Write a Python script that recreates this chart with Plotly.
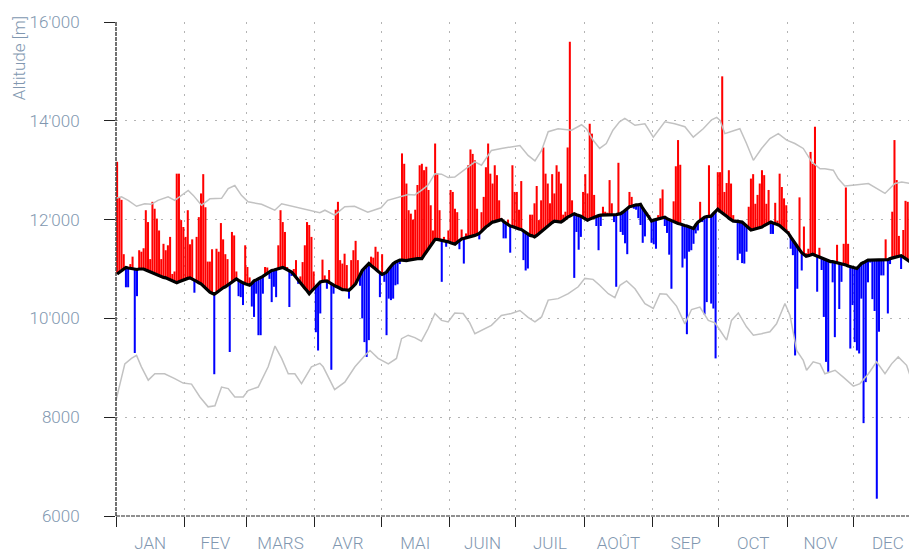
import plotly.graph_objects as go

month_names = ["JAN", "FEV", "MARS", "AVR", "MAI", "JUIN", "JUIL", "AOÛT", "SEP", "OCT", "NOV", "DEC"]
month_lengths = [31, 28, 31, 30, 31, 30, 31, 31, 30, 31, 30, 31]

y_tick_vals = [6000, 8000, 10000, 12000, 14000, 16000]
y_tick_text = ["6000", "8000", "10'000", "12'000", "14'000", "16'000"]

# smoothed daily reference altitude (black line), one value per day
baseline = [
    10900, 10930, 10970, 11000, 11030, 11020, 11010, 11000, 10990, 10990,
    11000, 11000, 11000, 10980, 10960, 10940, 10920, 10900, 10890, 10870,
    10850, 10830, 10820, 10800, 10780, 10760, 10740, 10720, 10740, 10760,
    10780, 10800, 10810, 10820, 10800, 10770, 10750, 10720, 10700, 10660,
    10610, 10570, 10530, 10510, 10490, 10520, 10560, 10600, 10620, 10640,
    10670, 10700, 10730, 10770, 10800, 10770, 10740, 10720, 10700, 10690,
    10670, 10710, 10760, 10780, 10800, 10830, 10850, 10880, 10910, 10940,
    10970, 10980, 10990, 11000, 11020, 11030, 11010, 10990, 10960, 10940,
    10890, 10830, 10780, 10720, 10670, 10610, 10560, 10500, 10550, 10600,
    10650, 10700, 10740, 10750, 10760, 10760, 10730, 10700, 10670, 10650,
    10630, 10600, 10580, 10580, 10570, 10570, 10610, 10660, 10700, 10790,
    10880, 10970, 11020, 11070, 11110, 11070, 11040, 11000, 10960, 10930,
    10890, 10910, 10940, 11000, 11060, 11110, 11140, 11160, 11180, 11180,
    11170, 11170, 11180, 11190, 11200, 11200, 11210, 11210, 11210, 11280,
    11350, 11410, 11470, 11540, 11600, 11600, 11590, 11590, 11580, 11560,
    11550, 11530, 11520, 11500, 11540, 11570, 11610, 11620, 11630, 11640,
    11650, 11660, 11680, 11700, 11720, 11760, 11810, 11850, 11880, 11920,
    11950, 11960, 11970, 11990, 12000, 11960, 11930, 11890, 11870, 11860,
    11840, 11830, 11810, 11800, 11770, 11730, 11700, 11680, 11670, 11650,
    11680, 11720, 11750, 11790, 11840, 11880, 11910, 11940, 11970, 11960,
    11960, 11950, 11980, 12020, 12050, 12070, 12100, 12120, 12100, 12090,
    12070, 12040, 12020, 11990, 12010, 12030, 12050, 12060, 12080, 12090,
    12090, 12090, 12090, 12090, 12090, 12090, 12100, 12110, 12120, 12150,
    12190, 12220, 12260, 12270, 12290, 12300, 12300, 12310, 12230, 12160,
    12100, 12030, 11970, 11990, 12000, 12020, 12030, 12040, 12050, 12020,
    12000, 11970, 11950, 11940, 11920, 11910, 11890, 11880, 11870, 11850,
    11840, 11820, 11890, 11950, 11980, 12020, 12050, 12060, 12060, 12070,
    12120, 12160, 12210, 12170, 12140, 12100, 12070, 12030, 12000, 11970,
    11970, 11960, 11960, 11950, 11910, 11870, 11830, 11790, 11800, 11810,
    11820, 11840, 11850, 11880, 11900, 11930, 11950, 11930, 11920, 11900,
    11880, 11840, 11800, 11760, 11720, 11650, 11580, 11510, 11450, 11390,
    11330, 11300, 11260, 11270, 11290, 11300, 11280, 11260, 11240, 11220,
    11200, 11180, 11160, 11150, 11150, 11140, 11130, 11120, 11110, 11090,
    11080, 11060, 11050, 11040, 11020, 11010, 11060, 11110, 11130, 11160,
    11180, 11180, 11180, 11180, 11180, 11180, 11180, 11180, 11190, 11190,
    11210, 11220, 11240, 11250, 11260, 11270, 11240, 11210, 11180, 11150,
    11120, 11120, 11120, 11120, 11120,
]

# daily altitude values (bars)
altitude = [
    13170, 12450, 12400, 11300, 10630, 10630, 11100, 11250, 9300, 10450,
    11380, 11350, 11420, 12190, 11950, 11200, 12360, 12220, 12020, 11780,
    11200, 11510, 11380, 11480, 11650, 10900, 10950, 12930, 12930, 11990,
    11850, 11650, 12190, 11500, 11600, 10520, 11650, 12050, 12530, 12920,
    12250, 11150, 11150, 11400, 8870, 11410, 11350, 11930, 11600, 11300,
    11200, 9320, 11750, 11680, 10950, 10450, 10430, 10270, 11480, 11040,
    10830, 10240, 10030, 10500, 9660, 9660, 10500, 11040, 11030, 10800,
    10330, 10640, 10430, 11480, 12190, 11950, 11750, 11040, 10230, 10860,
    11000, 11180, 10700, 10850, 11140, 11480, 11950, 11890, 11650, 10950,
    9720, 9350, 10100, 11190, 10870, 10600, 10980, 8960, 10500, 12200,
    12360, 11180, 11110, 11310, 11080, 10400, 11180, 11380, 11570, 11180,
    10660, 10000, 9520, 9220, 9560, 11250, 11230, 11450, 11350, 10430,
    11300, 10740, 9660, 10400, 10370, 10400, 10670, 10690, 11100, 13340,
    13130, 12730, 12190, 12120, 12000, 12200, 12700, 13100, 13130, 13000,
    13070, 12600, 12290, 11780, 13540, 12930, 12190, 10740, 11650, 11450,
    11780, 12600, 12560, 12220, 12150, 11400, 11800, 11110, 11720, 13100,
    13420, 13330, 13200, 12220, 11600, 12150, 12460, 13060, 13540, 12930,
    12730, 13100, 12900, 12390, 12020, 11620, 11620, 12000, 11330, 13100,
    12560, 12560, 12200, 12780, 11180, 10970, 11010, 12100, 12100, 12330,
    12680, 11990, 12390, 13460, 12930, 12730, 12330, 12920, 12530, 13100,
    12970, 12730, 12100, 12160, 13460, 15600, 12390, 10820, 11750, 11390,
    11650, 12560, 12920, 12530, 13940, 13740, 12500, 11870, 11380, 11870,
    12260, 12160, 12140, 12800, 12330, 11950, 10640, 13150, 11750, 11690,
    11520, 11300, 12560, 12460, 12220, 12200, 12030, 11890, 11530, 11660,
    12140, 12090, 11530, 11500, 11410, 12090, 12430, 12610, 11870, 11730,
    11290, 10600, 12370, 13080, 13610, 13110, 11030, 11210, 9680, 11350,
    11380, 11510, 11720, 11780, 12360, 11950, 10080, 10330, 13100, 10300,
    10200, 9190, 12960, 12960, 14900, 12560, 12740, 13000, 12730, 12090,
    11950, 11180, 11310, 11120, 11110, 11350, 12260, 12830, 12920, 12320,
    12500, 12730, 13000, 12900, 12320, 12600, 11710, 11710, 12340, 11980,
    12930, 12660, 12430, 12290, 11770, 11410, 11280, 9250, 10600, 12450,
    10970, 11860, 11320, 11410, 13370, 13130, 13880, 10540, 11430, 10980,
    10030, 9120, 8920, 11130, 10730, 9620, 11490, 10190, 10740, 11510,
    12650, 11510, 9390, 10270, 9520, 9350, 9290, 10400, 7880, 8710,
    10730, 11130, 10390, 10150, 6350, 9730, 10870, 10870, 11600, 10100,
    11100, 12160, 13610, 12800, 11670, 11000, 11790, 12380, 12360, 12050,
    11950, 12140, 12200, 11900, 11500,
]

# upper envelope (grey), read at points along the year
upper_days = [0, 2.5, 5.5, 9.3, 13, 16, 19, 23.6, 26.6, 29.7, 32.7, 35, 38.7, 42.5, 47.8,
              50.8, 53.8, 56.8, 59.8, 65.9, 71.9, 75, 81, 87, 92.3, 94.6, 99, 103.6, 108,
              114, 120, 123, 127.8, 132.3, 135.3, 138.3, 141.3, 144.4, 147.4, 150.4, 153.4,
              159.5, 162.5, 165.5, 170, 174.5, 179, 182.9, 186.6, 189.7, 192.7, 195.7, 200.2,
              206.3, 210.8, 213, 216, 219, 222, 225, 228, 230.4, 235, 239.5, 243.3, 248.5,
              253, 257.6, 261.4, 265.9, 269.7, 272, 273.5, 275.7, 280.3, 282.5, 285.5, 288.6,
              292.3, 296.1, 299.9, 303.7, 307.4, 311.2, 315, 318.8, 321, 324.8, 327, 330,
              334.6, 340.7, 344.4, 348.2, 352.7, 355.8, 360.3, 362.7, 365]
upper_vals = [12430, 12460, 12390, 12270, 12320, 12310, 12390, 12460, 12390, 12490, 12590, 12490,
              12290, 12420, 12430, 12630, 12690, 12490, 12360, 12310, 12190, 12320, 12260, 12190,
              12140, 12190, 12090, 12260, 12270, 12150, 12240, 12390, 12460, 12510, 12500, 12590,
              12700, 12930, 12920, 12850, 12860, 13070, 13170, 13100, 13400, 13440, 13470, 13500,
              13300, 13190, 13400, 13780, 13840, 13810, 13920, 13840, 13610, 13440, 13540, 13810,
              13980, 14050, 13910, 13940, 13670, 13980, 13940, 13880, 13670, 13840, 14020, 14070,
              14010, 13740, 13810, 13840, 13540, 13200, 13440, 13640, 13740, 13610, 13540, 13440,
              13170, 13030, 13030, 13000, 12830, 12680, 12700, 12730, 12630, 12530, 12730, 12760,
              12730, 12870, 12880]

# lower envelope (grey)
lower_days = [0, 1.7, 4, 7, 9.3, 11.5, 14.6, 17.6, 22, 26.6, 30.4, 34.2, 38, 41.7, 44.8, 47.8,
              50.8, 53.8, 57.6, 59.8, 64.4, 68.9, 72, 75, 78, 81, 84, 88.5, 92.3, 93.8, 96.8,
              99, 103.6, 108.2, 112.7, 115, 118.7, 123.3, 127, 129.3, 132.3, 135.3, 138.3,
              141.3, 144.4, 147.4, 150.4, 153.4, 157.2, 160.2, 162.5, 165.5, 170, 174.5, 179,
              182.9, 186.6, 189.7, 192.7, 195.7, 200.2, 204.8, 209.3, 212.3, 216, 219, 222.9,
              225.9, 228.2, 231.2, 235, 239.5, 243.3, 246.3, 249.3, 253.8, 257.6, 260.6, 264.4,
              268.2, 271.2, 273.5, 276.5, 278.7, 281.8, 285.5, 288.6, 292.3, 296.1, 299.1,
              302.9, 305.2, 308.2, 311.2, 312.7, 315.7, 318.8, 321, 325.6, 329.3, 333.9, 336.9,
              340.7, 344.4, 348.2, 351.2, 354.2, 358, 361, 362.7, 365]
lower_vals = [8340, 8680, 9080, 9190, 9250, 9020, 8750, 8880, 8880, 8780, 8690, 8670, 8410, 8210,
              8230, 8610, 8580, 8410, 8410, 8540, 8610, 9020, 9440, 9190, 8880, 8880, 8680, 9020,
              9090, 9020, 8750, 8560, 8710, 9020, 9250, 9350, 9190, 9080, 9190, 9590, 9660, 9610,
              9540, 9790, 10100, 9960, 9930, 10110, 10100, 9910, 9690, 9760, 9860, 10060, 10100,
              10160, 10020, 9930, 10030, 10370, 10400, 10500, 10640, 10810, 10790, 10670, 10500,
              10420, 10670, 10760, 10600, 10300, 10200, 10500, 10490, 10250, 9890, 10180, 10230,
              9960, 9910, 9760, 9560, 9960, 10110, 9830, 9660, 9690, 9730, 9890, 10300, 10060,
              9350, 9150, 8950, 9120, 9080, 8880, 8950, 8810, 8630, 8680, 8880, 9120, 8880, 9080,
              9220, 9050, 8650, 8480, 8350]

# ---- derived positions ----
month_starts = [sum(month_lengths[:k]) for k in range(12)]
month_centers = [s + l / 2 for s, l in zip(month_starts, month_lengths)]
days = [i + 0.5 for i in range(len(altitude))]

up_x, up_y, up_b = [], [], []
dn_x, dn_y, dn_b = [], [], []
for d, a, b in zip(days, altitude, baseline):
    if a >= b:
        up_x.append(d); up_y.append(a - b); up_b.append(b)
    else:
        dn_x.append(d); dn_y.append(a - b); dn_b.append(b)

label_color = "#8197b0"
grid_color = "#b4b4b4"
font_family = "Roboto, Open Sans, sans-serif"
fsize = 17

fig = go.Figure()
fig.add_trace(go.Bar(x=up_x, y=up_y, base=up_b, width=0.92,
                     marker=dict(color="#ff0000", line=dict(width=0)), showlegend=False))
fig.add_trace(go.Bar(x=dn_x, y=dn_y, base=dn_b, width=0.92,
                     marker=dict(color="#0000ff", line=dict(width=0)), showlegend=False))
fig.add_trace(go.Scatter(x=upper_days, y=upper_vals, mode="lines",
                         line=dict(color="#c2c2c2", width=1.5), showlegend=False))
fig.add_trace(go.Scatter(x=lower_days, y=lower_vals, mode="lines",
                         line=dict(color="#c2c2c2", width=1.5), showlegend=False))
fig.add_trace(go.Scatter(x=days, y=baseline, mode="lines",
                         line=dict(color="#000000", width=3.2), showlegend=False))

# the page body adds an 8px offset; figure size and margins compensate for it
fig.update_layout(
    width=909, height=543,
    margin=dict(l=108, r=0, t=14, b=35),
    plot_bgcolor="white", paper_bgcolor="white",
    barmode="overlay",
    font=dict(family=font_family, color=label_color, size=fsize),
    xaxis=dict(
        range=[0, 362.7], automargin=False,
        tickmode="array", tickvals=month_centers, ticktext=month_names,
        ticks="outside", ticklen=0, tickcolor="rgba(0,0,0,0)",
        showgrid=False, zeroline=False, showline=False,
        tickfont=dict(size=fsize, color=label_color, family=font_family, weight=300),
        ticklabelstandoff=12,
        minor=dict(tickmode="array", tickvals=month_starts, ticks="outside",
                   ticklen=10, tickcolor="#222222", tickwidth=1,
                   showgrid=True, gridcolor=grid_color, griddash="2px,7px", gridwidth=1),
    ),
    yaxis=dict(
        range=[6000, 16000], automargin=False,
        tickmode="array", tickvals=y_tick_vals, ticktext=y_tick_text,
        ticks="outside", ticklen=11, tickcolor="#222222", tickwidth=1,
        showgrid=True, gridcolor=grid_color, griddash="2px,7px", gridwidth=1,
        zeroline=False, showline=False,
        tickfont=dict(size=fsize, color=label_color, family=font_family, weight=300),
        ticklabelstandoff=21,
    ),
    shapes=[
        dict(type="line", xref="paper", yref="paper", x0=0, x1=0, y0=0, y1=1,
             line=dict(color="#444444", width=1.5, dash="4px,1px")),
        dict(type="line", xref="paper", yref="paper", x0=0, x1=1, y0=0, y1=0,
             line=dict(color="#222222", width=1, dash="4px,1px")),
    ],
    annotations=[
        dict(text="Altitude [m]", xref="paper", yref="paper", x=-0.121, y=1.016,
             xanchor="center", yanchor="top", textangle=-90, showarrow=False,
             font=dict(size=fsize, color=label_color, family=font_family, weight=300)),
    ],
)

fig.write_html("out.html")
